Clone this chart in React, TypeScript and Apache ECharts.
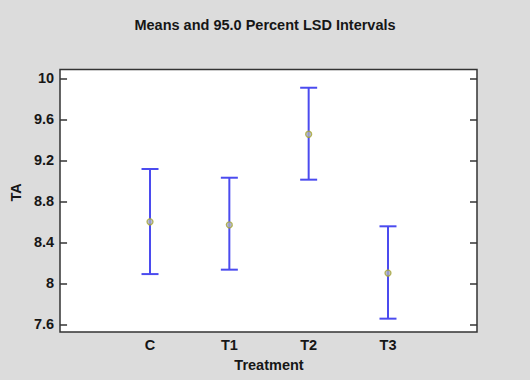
import React, { useEffect, useRef } from "react";
import * as echarts from "echarts";

const categories = ["C", "T1", "T2", "T3"];
const means = [8.6, 8.57, 9.454, 8.1];
const lower = [8.09, 8.133, 9.011, 7.655];
const upper = [9.115, 9.03, 9.908, 8.556];
const yTicks = { min: 7.6, max: 10, step: 0.4 };

const FONT = "'Liberation Sans', Arial, sans-serif";
const TXT = "#161616";

export default function App() {
  const ref = useRef<HTMLDivElement>(null);
  useEffect(() => {
    if (!ref.current) return;
    const chart = echarts.init(ref.current, null, { renderer: "svg" });
    const barData = categories.map((_, i) => [i, lower[i], upper[i]]);
    const option: any = {
      animation: false,
      backgroundColor: "#dcdcdc",
      textStyle: { fontFamily: FONT },
      title: {
        text: "Means and 95.0 Percent LSD Intervals",
        left: "center",
        top: 12,
        textStyle: { fontFamily: FONT, fontSize: 14.5, fontWeight: "bold", color: TXT },
      },
      grid: [
        { left: 60, width: 417, top: 69.5, height: 262.5, show: true, backgroundColor: "#ffffff", borderColor: "#333333", borderWidth: 1.5 },
        { left: 60, width: 417, top: 78.3, height: 246, show: false },
        { left: 110.35, width: 317.3, top: 78.3, height: 246, show: false },
      ],
      xAxis: [
        { gridIndex: 0, type: "value", show: false, min: 0, max: 1 },
        { gridIndex: 1, type: "value", show: false, min: 0, max: 1 },
        {
          gridIndex: 2,
          type: "category",
          data: categories,
          boundaryGap: true,
          axisLine: { show: false },
          axisTick: { show: false },
          axisLabel: { margin: 13, fontFamily: FONT, fontSize: 14.5, fontWeight: "bold", color: TXT },
          name: "Treatment",
          nameLocation: "middle",
          nameGap: 28.5,
          nameTextStyle: { fontFamily: FONT, fontSize: 14.5, fontWeight: "bold", color: TXT },
        },
      ],
      yAxis: [
        { gridIndex: 0, type: "value", show: false, min: 0, max: 1 },
        {
          gridIndex: 1,
          type: "value",
          position: "left",
          min: yTicks.min,
          max: yTicks.max,
          interval: yTicks.step,
          axisLine: { show: false },
          axisTick: { show: true, inside: true, length: 7, lineStyle: { color: "#333333", width: 1.5 } },
          splitLine: { show: false },
          axisLabel: { margin: 6, fontFamily: FONT, fontSize: 14.5, fontWeight: "bold", color: TXT },
          name: "TA",
          nameLocation: "middle",
          nameGap: 34,
          nameTextStyle: { fontFamily: FONT, fontSize: 14.5, fontWeight: "bold", color: TXT, padding: [0, 0, 0, 18] },
        },
        {
          gridIndex: 1,
          type: "value",
          position: "right",
          min: yTicks.min,
          max: yTicks.max,
          interval: yTicks.step,
          axisLine: { show: false },
          axisTick: { show: true, inside: true, length: 7, lineStyle: { color: "#333333", width: 1.5 } },
          splitLine: { show: false },
          axisLabel: { show: false },
        },
        { gridIndex: 2, type: "value", show: false, min: yTicks.min, max: yTicks.max },
      ],
      series: [
        {
          type: "custom",
          xAxisIndex: 2,
          yAxisIndex: 3,
          data: barData,
          z: 3,
          renderItem: (params: any, api: any) => {
            const x = api.value(0);
            const lo = api.coord([x, api.value(1)]);
            const hi = api.coord([x, api.value(2)]);
            const hw = 8.5;
            const style = { stroke: "#4b4bef", lineWidth: 2, fill: "none" };
            return {
              type: "group",
              children: [
                { type: "line", shape: { x1: lo[0], y1: lo[1], x2: hi[0], y2: hi[1] }, style },
                { type: "line", shape: { x1: hi[0] - hw, y1: hi[1], x2: hi[0] + hw, y2: hi[1] }, style },
                { type: "line", shape: { x1: lo[0] - hw, y1: lo[1], x2: lo[0] + hw, y2: lo[1] }, style },
              ],
            };
          },
        },
        {
          type: "scatter",
          xAxisIndex: 2,
          yAxisIndex: 3,
          data: means.map((m, i) => [i, m]),
          symbol: "circle",
          symbolSize: 6,
          z: 4,
          itemStyle: { color: "#a9acc4", borderColor: "#a6a630", borderWidth: 1.3 },
        },
      ],
    };
    chart.setOption(option);
    return () => chart.dispose();
  }, []);
  return <div ref={ref} style={{ position: "fixed", left: 0, top: 0, width: 530, height: 380 }} />;
}
